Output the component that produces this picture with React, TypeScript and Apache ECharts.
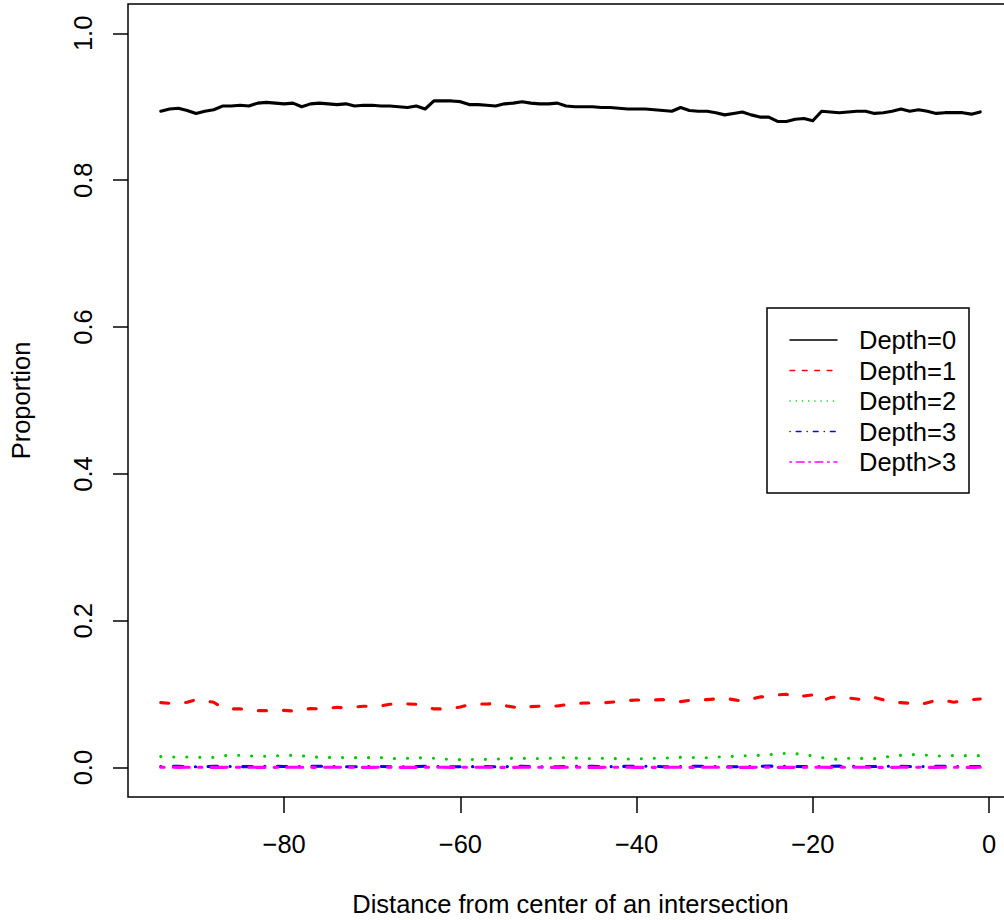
import React, { useEffect, useRef } from "react";
import * as echarts from "echarts";

const distance = [
  -94, -93, -92, -91, -90, -89, -88, -87, -86, -85,
  -84, -83, -82, -81, -80, -79, -78, -77, -76, -75,
  -74, -73, -72, -71, -70, -69, -68, -67, -66, -65,
  -64, -63, -62, -61, -60, -59, -58, -57, -56, -55,
  -54, -53, -52, -51, -50, -49, -48, -47, -46, -45,
  -44, -43, -42, -41, -40, -39, -38, -37, -36, -35,
  -34, -33, -32, -31, -30, -29, -28, -27, -26, -25,
  -24, -23, -22, -21, -20, -19, -18, -17, -16, -15,
  -14, -13, -12, -11, -10, -9, -8, -7, -6, -5,
  -4, -3, -2, -1,
];

const depth0 = [
  0.894, 0.897, 0.898, 0.895, 0.891, 0.894, 0.896, 0.901, 0.901, 0.902,
  0.901, 0.905, 0.906, 0.905, 0.904, 0.905, 0.900, 0.904, 0.905, 0.904,
  0.903, 0.904, 0.901, 0.902, 0.902, 0.901, 0.901, 0.900, 0.899, 0.901,
  0.897, 0.908, 0.908, 0.908, 0.907, 0.903, 0.903, 0.902, 0.901, 0.904,
  0.905, 0.907, 0.905, 0.904, 0.904, 0.905, 0.901, 0.900, 0.900, 0.900,
  0.899, 0.899, 0.898, 0.897, 0.897, 0.897, 0.896, 0.895, 0.894, 0.899,
  0.895, 0.894, 0.894, 0.892, 0.889, 0.891, 0.893, 0.889, 0.886, 0.886,
  0.880, 0.880, 0.883, 0.884, 0.881, 0.894, 0.893, 0.892, 0.893, 0.894,
  0.894, 0.891, 0.892, 0.894, 0.897, 0.894, 0.896, 0.894, 0.891, 0.892,
  0.892, 0.892, 0.890, 0.893,
];

const depth1 = [
  0.0885, 0.0877, 0.0873, 0.089, 0.0926, 0.091, 0.089, 0.0817, 0.080, 0.080,
  0.079, 0.0776, 0.0776, 0.0776, 0.078, 0.0772, 0.079, 0.0804, 0.080, 0.0808,
  0.0822, 0.0813, 0.0826, 0.0836, 0.0836, 0.084, 0.0863, 0.0872, 0.0867, 0.0863,
  0.0831, 0.080, 0.080, 0.0808, 0.0826, 0.0858, 0.0867, 0.0867, 0.0872, 0.0845,
  0.0826, 0.080, 0.0831, 0.0836, 0.0836, 0.084, 0.0856, 0.0867, 0.0881, 0.0881,
  0.0881, 0.089, 0.0899, 0.0913, 0.0922, 0.0922, 0.0922, 0.0926, 0.0913, 0.0899,
  0.0917, 0.0926, 0.0926, 0.0935, 0.0944, 0.0926, 0.0904, 0.0935, 0.0963, 0.0967,
  0.099, 0.0999, 0.0954, 0.0976, 0.099, 0.0908, 0.0954, 0.0967, 0.0949, 0.0935,
  0.0917, 0.0954, 0.0922, 0.089, 0.0885, 0.0877, 0.0854, 0.0885, 0.0917, 0.0913,
  0.089, 0.0908, 0.0926, 0.0935,
];

const depth2 = [
  0.015, 0.0145, 0.0145, 0.0145, 0.014, 0.014, 0.014, 0.016, 0.0168, 0.0168,
  0.016, 0.0157, 0.0154, 0.016, 0.0163, 0.0168, 0.016, 0.015, 0.014, 0.014,
  0.0138, 0.0136, 0.0136, 0.0136, 0.0136, 0.0136, 0.0127, 0.012, 0.0127, 0.0136,
  0.013, 0.0127, 0.0118, 0.011, 0.0109, 0.011, 0.0113, 0.0113, 0.0115, 0.0122,
  0.0127, 0.0127, 0.0125, 0.0125, 0.0127, 0.013, 0.0136, 0.013, 0.0125, 0.0125,
  0.0127, 0.0127, 0.012, 0.0118, 0.0118, 0.0122, 0.0127, 0.0127, 0.0136, 0.014,
  0.014, 0.0136, 0.0134, 0.0143, 0.015, 0.0154, 0.016, 0.0163, 0.0168, 0.0175,
  0.0186, 0.0195, 0.019, 0.0177, 0.016, 0.0136, 0.0118, 0.0115, 0.0127, 0.0127,
  0.0125, 0.0122, 0.014, 0.0157, 0.0168, 0.0175, 0.0179, 0.0168, 0.0157, 0.016,
  0.0165, 0.0163, 0.0163, 0.0163,
];

const depth3 = [
  0.0015, 0.0017, 0.0018, 0.0014, 0.0012, 0.0015, 0.0017, 0.0019, 0.0016, 0.0013,
  0.0014, 0.0018, 0.0020, 0.0017, 0.0015, 0.0012, 0.0014, 0.0016, 0.0019, 0.0018,
  0.0015, 0.0013, 0.0012, 0.0014, 0.0017, 0.0016, 0.0013, 0.0011, 0.0013, 0.0016,
  0.0018, 0.0017, 0.0014, 0.0012, 0.0011, 0.0013, 0.0015, 0.0014, 0.0012, 0.0013,
  0.0016, 0.0017, 0.0015, 0.0012, 0.0011, 0.0013, 0.0016, 0.0018, 0.0019, 0.0017,
  0.0014, 0.0013, 0.0015, 0.0018, 0.0020, 0.0019, 0.0016, 0.0013, 0.0012, 0.0014,
  0.0017, 0.0019, 0.0018, 0.0015, 0.0013, 0.0012, 0.0014, 0.0016, 0.0018, 0.0020,
  0.0021, 0.0019, 0.0016, 0.0014, 0.0013, 0.0015, 0.0018, 0.0020, 0.0019, 0.0016,
  0.0014, 0.0015, 0.0017, 0.0019, 0.0018, 0.0016, 0.0015, 0.0017, 0.0019, 0.0018,
  0.0016, 0.0014, 0.0015, 0.0016,
];

const depthOver3 = [
  0.0006, 0.0005, 0.0004, 0.0005, 0.0006, 0.0004, 0.0003, 0.0004, 0.0005, 0.0006,
  0.0005, 0.0004, 0.0003, 0.0004, 0.0005, 0.0006, 0.0005, 0.0004, 0.0004, 0.0005,
  0.0006, 0.0005, 0.0004, 0.0003, 0.0004, 0.0005, 0.0005, 0.0004, 0.0003, 0.0004,
  0.0005, 0.0006, 0.0005, 0.0004, 0.0004, 0.0005, 0.0006, 0.0005, 0.0004, 0.0003,
  0.0004, 0.0005, 0.0006, 0.0005, 0.0004, 0.0004, 0.0005, 0.0005, 0.0004, 0.0003,
  0.0004, 0.0005, 0.0006, 0.0005, 0.0004, 0.0003, 0.0004, 0.0005, 0.0006, 0.0005,
  0.0004, 0.0004, 0.0005, 0.0006, 0.0005, 0.0004, 0.0003, 0.0004, 0.0005, 0.0005,
  0.0004, 0.0003, 0.0004, 0.0005, 0.0006, 0.0005, 0.0004, 0.0004, 0.0005, 0.0006,
  0.0005, 0.0004, 0.0003, 0.0004, 0.0005, 0.0006, 0.0005, 0.0004, 0.0004, 0.0005,
  0.0005, 0.0004, 0.0004, 0.0005,
];

const seriesNames = ["Depth=0", "Depth=1", "Depth=2", "Depth=3", "Depth>3"];
const seriesValues = [depth0, depth1, depth2, depth3, depthOver3];
const seriesColors = ["#000000", "#FF0000", "#00CD00", "#0000FF", "#FF00FF"];
const plotDash: (number[] | null)[] = [
  null,
  [8, 17],
  [0.1, 12.9],
  [0.15, 12.45, 9.6, 12.45],
  [3.3, 9.3, 15.9, 9.3],
];
const legendDash: (number[] | null)[] = [
  null,
  [4.7, 7.7],
  [0.1, 6.1],
  [0.1, 6.15, 4.7, 6.15],
  [1.6, 4.7, 7.8, 4.7],
];

const xTickValues = [-80, -60, -40, -20, 0];
const yTickValues = [0, 0.2, 0.4, 0.6, 0.8, 1.0];

const xTitle = "Distance from center of an intersection";
const yTitle = "Proportion";

const FONT = "'Liberation Sans', Arial, Helvetica, sans-serif";
const FS = 25.5;

export default function App() {
  const ref = useRef<HTMLDivElement>(null);

  useEffect(() => {
    if (!ref.current) return;
    const chart = echarts.init(ref.current, undefined, { renderer: "svg" });

    const legendGraphics: any[] = [
      {
        type: "rect",
        shape: { x: 767, y: 308, width: 202, height: 185 },
        style: { fill: "none", stroke: "#000", lineWidth: 1.5 },
        z: 100,
      },
    ];
    seriesNames.forEach((name, i) => {
      const y = 340 + i * 30.5;
      legendGraphics.push({
        type: "line",
        shape: { x1: 790, y1: y, x2: 837, y2: y },
        style: {
          stroke: seriesColors[i],
          lineWidth: 1.5,
          lineDash: legendDash[i] || undefined,
          lineCap: "round",
        },
        z: 100,
      });
      legendGraphics.push({
        type: "text",
        x: 859,
        y: y,
        style: {
          text: name,
          fill: "#000",
          fontSize: FS,
          fontFamily: FONT,
          align: "left",
          verticalAlign: "middle",
        },
        z: 100,
      });
    });

    const option: any = {
      animation: false,
      backgroundColor: "#fff",
      grid: {
        left: 128,
        top: 4,
        width: 885,
        height: 793,
        show: true,
        borderColor: "#000",
        borderWidth: 1.5,
        backgroundColor: "transparent",
        containLabel: false,
        outerBoundsMode: "none",
      },
      xAxis: {
        type: "value",
        min: -97.72,
        max: 2.72,
        axisLine: { show: false, onZero: false },
        splitLine: { show: false },
        axisTick: {
          show: true,
          customValues: xTickValues,
          length: 16,
          lineStyle: { color: "#000", width: 1.5 },
        },
        axisLabel: {
          customValues: xTickValues,
          margin: 34,
          color: "#000",
          fontSize: FS,
          fontFamily: FONT,
          formatter: (v: number) => (v < 0 ? "\u2212" + Math.abs(v) : String(v)),
        },
      },
      yAxis: {
        type: "value",
        min: -0.04,
        max: 1.04,
        axisLine: { show: false, onZero: false },
        splitLine: { show: false },
        axisTick: {
          show: true,
          customValues: yTickValues,
          length: 15,
          lineStyle: { color: "#000", width: 1.5 },
        },
        axisLabel: {
          customValues: yTickValues,
          rotate: 90,
          margin: 32,
          color: "#000",
          fontSize: FS,
          fontFamily: FONT,
          formatter: (v: number) => v.toFixed(1),
        },
      },
      series: seriesNames.map((name, i) => ({
        name,
        type: "line",
        symbol: "none",
        data: distance.map((d, j) => [d, seriesValues[i][j]]),
        lineStyle: {
          color: seriesColors[i],
          width: 3.1,
          type: plotDash[i] || "solid",
          cap: "round",
          join: "round",
        },
        z: 2 + i,
      })),
      graphic: [
        {
          type: "text",
          x: 570.5,
          y: 904,
          style: {
            text: xTitle,
            fill: "#000",
            fontSize: FS,
            fontFamily: FONT,
            align: "center",
            verticalAlign: "middle",
          },
        },
        {
          type: "text",
          x: 21,
          y: 400.5,
          rotation: Math.PI / 2,
          style: {
            text: yTitle,
            fill: "#000",
            fontSize: FS,
            fontFamily: FONT,
            align: "center",
            verticalAlign: "middle",
          },
        },
        ...legendGraphics,
      ],
    };

    chart.setOption(option);
    return () => {
      chart.dispose();
    };
  }, []);

  return (
    <div
      ref={ref}
      style={{ position: "fixed", left: 0, top: 0, width: 1004, height: 920, background: "#fff" }}
    />
  );
}
